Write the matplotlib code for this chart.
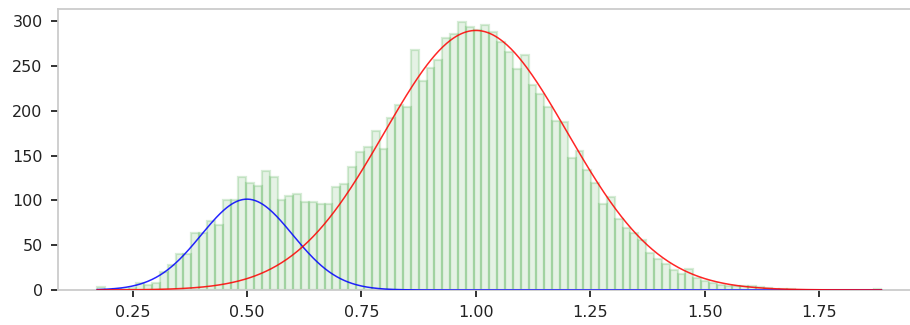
import numpy as np
import matplotlib
matplotlib.use("Agg")
import matplotlib.pyplot as plt

# histogram: 100 equal bins between the data min and max
bin_lo = 0.1726
bin_hi = 1.886
counts = [
    3, 0, 1, 1, 2, 8, 6, 8, 20, 28,
    40, 40, 64, 64, 77, 73, 101, 101, 126, 119,
    116, 133, 126, 100, 105, 107, 98, 98, 96, 96,
    115, 118, 137, 154, 160, 178, 158, 192, 207, 204,
    268, 233, 248, 257, 281, 286, 299, 294, 291, 296,
    288, 277, 266, 247, 262, 229, 219, 204, 189, 188,
    148, 155, 134, 119, 96, 104, 79, 69, 64, 56,
    41, 35, 29, 22, 18, 23, 13, 10, 8, 6,
    5, 4, 5, 4, 3, 2, 1, 1, 1, 0,
    0, 0, 0, 0, 0, 0, 0, 0, 0, 1,
]

# fitted mixture components (mean, sigma, peak height)
comp_means = [0.50, 1.00]
comp_sigmas = [0.10, 0.20]
comp_peaks = [101.5, 290.0]
comp_colors = ["blue", "red"]

edges = np.linspace(bin_lo, bin_hi, len(counts) + 1)
centers = 0.5 * (edges[:-1] + edges[1:])

fig = plt.figure(figsize=(9.1, 3.25), dpi=100)
ax = fig.add_axes([0.0637, 0.1077, 0.948, 0.8646])

ax.hist(centers, bins=edges, weights=counts,
        facecolor=(0.0, 0.5, 0.0, 0.1), edgecolor=(0.0, 0.55, 0.0, 0.16), linewidth=1.6)

xs = np.linspace(bin_lo, bin_hi, 600)
for mu, sd, pk, c in zip(comp_means, comp_sigmas, comp_peaks, comp_colors):
    ax.plot(xs, pk * np.exp(-0.5 * ((xs - mu) / sd) ** 2), color=c, lw=1.1,
            alpha=0.85, zorder=3)

for s in ax.spines.values():
    s.set_color("#cccccc")
    s.set_linewidth(1.3)
ax.tick_params(direction="out", length=5, width=1.3, color="#222222",
               labelsize=11.5, labelcolor="#222222", pad=6)
ax.set_xticks([0.25, 0.50, 0.75, 1.00, 1.25, 1.50, 1.75])
ax.set_yticks([0, 50, 100, 150, 200, 250, 300])

fig.savefig("out.png", dpi=100)
